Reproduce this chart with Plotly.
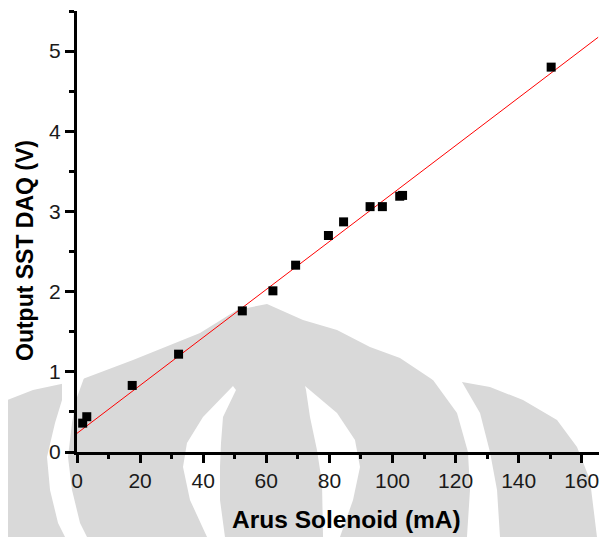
import plotly.graph_objects as go

# ---- data ----
arus_ma = [1.8, 3.1, 17.5, 32.2, 52.4, 62.1, 69.3, 79.7, 84.5, 92.9, 96.8, 102.3, 103.2, 150.3]
output_v = [0.36, 0.44, 0.83, 1.22, 1.76, 2.01, 2.33, 2.70, 2.87, 3.06, 3.06, 3.19, 3.20, 4.80]
fit_intercept = 0.233
fit_slope = 0.0299
fit_x = [0.0, 165.2]
fit_y = [fit_intercept + fit_slope * v for v in fit_x]

x_ticks = [0, 20, 40, 60, 80, 100, 120, 140, 160]
y_ticks = [0, 1, 2, 3, 4, 5]
x_title = "Arus Solenoid (mA)"
y_title = "Output SST DAQ (V)"

# page body has an 8px default margin; compensate so the chart lands on the window
OFF = 8
W, H = 607 - OFF, 537 - OFF
ML, MR, MT, MB = 77 - OFF, 0, 11 - OFF, 85
PW, PH = W - ML - MR, H - MT - MB


def px2paper(px, py):
    # window pixels -> paper coordinates
    return (px - OFF - ML) / PW, (H - MB - (py - OFF)) / PH


def path(pts):
    p = [px2paper(x, y) for x, y in pts]
    s = "M %.4f %.4f " % p[0]
    for x, y in p[1:]:
        s += "L %.4f %.4f " % (x, y)
    return s + "Z"


# watermark (decorative background logo), window pixel outlines
grey_body = [(0, 537), (0, 403), (33, 390), (80, 380), (133, 360), (200, 333), (237, 310),
             (267, 304), (303, 320), (337, 330), (370, 347), (400, 358), (433, 380),
             (462, 382), (490, 387), (523, 400), (557, 420), (577, 447), (590, 480),
             (597, 537)]
white_left = [(62, 378), (84, 378), (76, 400), (72, 423), (68, 457), (72, 490), (80, 523),
              (87, 537), (65, 537), (58, 523), (50, 490), (47, 457), (55, 423), (62, 400)]
white_cl = [(233, 386), (203, 417), (187, 443), (183, 467), (190, 500), (207, 537),
            (225, 537), (220, 500), (220, 467), (221, 443), (223, 417), (236, 390)]
white_cr = [(305, 386), (337, 413), (355, 440), (360, 467), (353, 500), (340, 537),
            (323, 537), (322, 483), (317, 450), (310, 417), (306, 390)]
white_right = [(428, 374), (464, 376), (462, 382), (480, 413), (490, 452), (497, 490),
               (500, 537), (467, 537), (470, 490), (468, 452), (457, 413), (433, 380)]

shapes = [dict(type="path", xref="paper", yref="paper", layer="below",
               path=path(grey_body), fillcolor="#d9d9d9", line=dict(width=0))]
for poly in (white_left, white_cl, white_cr, white_right):
    shapes.append(dict(type="path", xref="paper", yref="paper", layer="below",
                       path=path(poly), fillcolor="white", line=dict(width=0)))

fig = go.Figure()
fig.add_trace(go.Scatter(x=fit_x, y=fit_y, mode="lines",
                         line=dict(color="#ff0000", width=1), showlegend=False))
fig.add_trace(go.Scatter(x=arus_ma, y=output_v, mode="markers",
                         marker=dict(symbol="square", size=9, color="black",
                                     line=dict(width=0)), showlegend=False))

xt_x, xt_y = px2paper(346, 519)
yt_x, yt_y = px2paper(25, 251)
annotations = [
    dict(text="<b>%s</b>" % x_title, xref="paper", yref="paper", x=xt_x, y=xt_y,
         xanchor="center", yanchor="middle", showarrow=False,
         font=dict(size=24.5, color="black")),
    dict(text="<b>%s</b>" % y_title, xref="paper", yref="paper", x=yt_x, y=yt_y,
         xanchor="center", yanchor="middle", showarrow=False, textangle=-90,
         font=dict(size=23, color="black")),
]

font_family = "Liberation Sans, Arial, sans-serif"
fig.update_layout(
    width=W, height=H,
    margin=dict(l=ML, r=MR, t=MT, b=MB, autoexpand=False),
    paper_bgcolor="white", plot_bgcolor="rgba(0,0,0,0)",
    font=dict(family=font_family, color="#1a1a1a"),
    shapes=shapes, annotations=annotations,
    xaxis=dict(range=[0, 168], tickvals=x_ticks, ticks="outside", ticklen=8, tickwidth=2.5,
               tickcolor="black", showline=True, linecolor="black", linewidth=3,
               showgrid=False, zeroline=False, tickfont=dict(size=21),
               minor=dict(dtick=10, tick0=0, ticks="outside", ticklen=4, tickwidth=2.5,
                          tickcolor="black", showgrid=False)),
    yaxis=dict(range=[0, 5.5], tickvals=y_ticks, ticks="outside", ticklen=9, tickwidth=2.5,
               tickcolor="black", showline=True, linecolor="black", linewidth=3,
               showgrid=False, zeroline=False, tickfont=dict(size=21),
               minor=dict(dtick=0.5, tick0=0, ticks="outside", ticklen=5, tickwidth=2.5,
                          tickcolor="black", showgrid=False)),
)

fig.write_html("out.html")
